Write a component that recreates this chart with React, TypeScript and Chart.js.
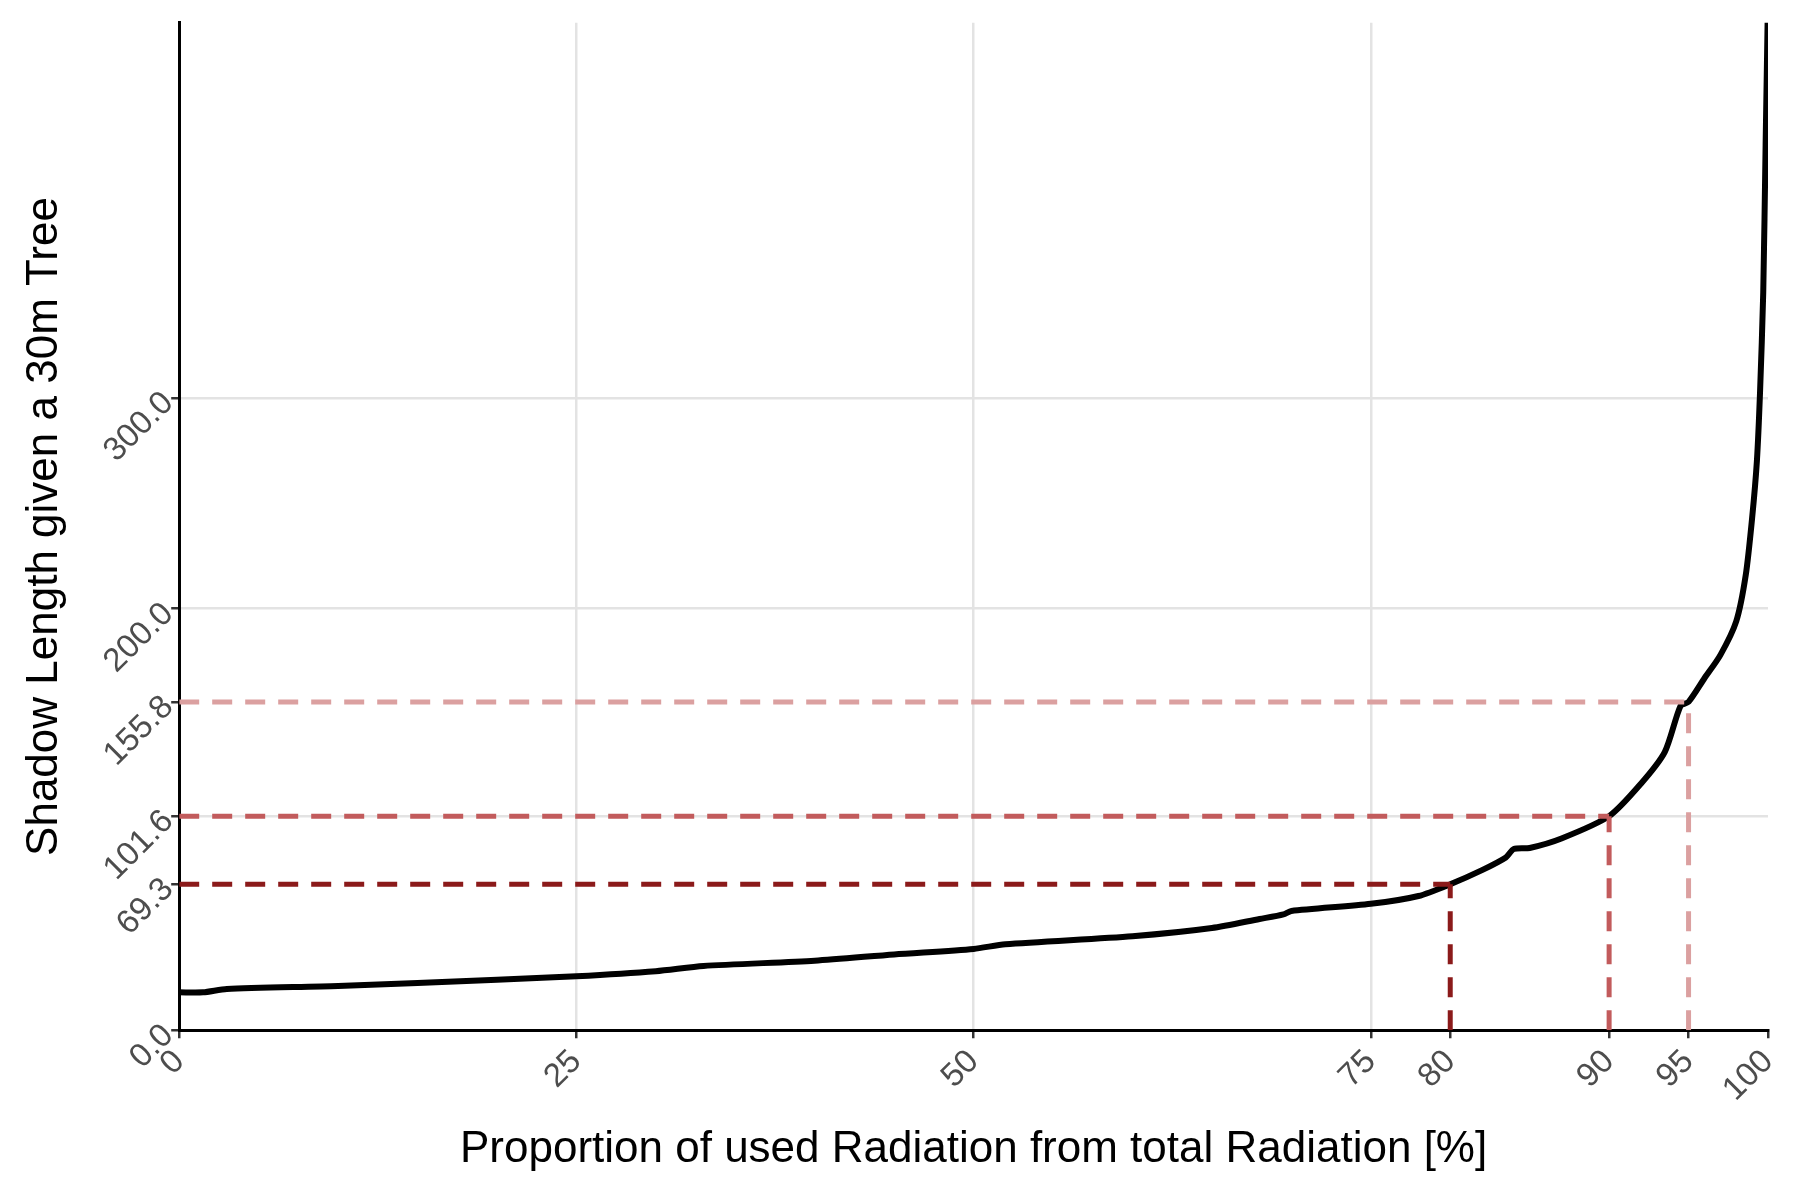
import {useEffect, useRef} from 'react'
import Chart from 'chart.js/auto'

const curveX = [0, 1.5, 3, 10, 20, 25, 30, 33, 40, 45, 50, 52, 60, 65, 68, 69.5, 70, 75, 78, 80, 82, 83.5, 84, 85, 87, 90, 92, 93.5, 94.5, 95, 96, 97, 98, 98.6, 99, 99.3, 99.5, 99.7, 99.85, 100]
const curveY = [18, 18, 19.6, 21, 24, 25.6, 28, 30.5, 33, 36, 38.6, 40.8, 44.6, 48.5, 52.8, 55, 56.6, 60, 63.7, 69.3, 76, 82, 86, 86.5, 91, 101.6, 117, 132, 154, 155.8, 167, 178, 194, 216, 243, 270, 303, 350, 420, 490]

const thresholdX = [80, 90, 95]
const thresholdY = [69.3, 101.6, 155.8]
const thresholdColors = ['#8b1a1a', '#c25b5c', '#dba0a0']

const xTicks = [0, 25, 50, 75, 80, 90, 95, 100]
const yTicks = [0, 69.3, 101.6, 155.8, 200, 300]
const xGridAt = [25, 50, 75]
const yGridAt = [101.6, 200, 300]

function App() {
  const chartRef = useRef<HTMLCanvasElement | null>(null)

  useEffect(() => {
    document.body.style.margin = '0'
    const dashSets = thresholdX.flatMap((tx, i) => [
      {
        data: [{x: 0, y: thresholdY[i]}, {x: tx, y: thresholdY[i]}],
        borderColor: thresholdColors[i], borderWidth: 5, borderDash: [20, 13], pointRadius: 0,
      },
      {
        data: [{x: tx, y: 0}, {x: tx, y: thresholdY[i]}],
        borderColor: thresholdColors[i], borderWidth: 5, borderDash: [20, 13], pointRadius: 0,
      },
    ])
    const myChart = new Chart(chartRef.current!, {
      type: 'line',
      data: {
        datasets: [
          ...dashSets,
          {
            data: curveX.map((x, i) => ({x, y: curveY[i]})),
            borderColor: '#000', borderWidth: 6, pointRadius: 0, tension: 0.25,
          },
        ] as any,
      },
      options: {
        animation: false,
        responsive: false,
        layout: {padding: {top: 20, right: 22, left: 14, bottom: 20}},
        plugins: {legend: {display: false}, tooltip: {enabled: false}},
        scales: {
          x: {
            type: 'linear', min: 0, max: 100,
            afterBuildTicks: (s: any) => { s.ticks = xTicks.map((v) => ({value: v})) },
            ticks: {color: '#4d4d4d', font: {family: 'Liberation Sans', size: 33}, maxRotation: 45, minRotation: 45, padding: 4},
            grid: {color: (c: any) => xGridAt.includes(c.tick?.value) ? '#e3e3e3' : 'rgba(0,0,0,0)', lineWidth: 2.5, drawTicks: true, tickColor: '#333', tickLength: 8},
            border: {color: '#000', width: 3},
            title: {display: true, text: 'Proportion of used Radiation from total Radiation [%]', color: '#000', font: {family: 'Liberation Sans', size: 44}, padding: {top: 10}},
          },
          y: {
            type: 'linear', min: 0, max: 478,
            afterBuildTicks: (s: any) => { s.ticks = yTicks.map((v) => ({value: v})) },
            ticks: {color: '#4d4d4d', font: {family: 'Liberation Sans', size: 33}, maxRotation: 45, minRotation: 45, callback: (v: any) => Number(v).toFixed(1)},
            grid: {color: (c: any) => yGridAt.includes(c.tick?.value) ? '#e3e3e3' : 'rgba(0,0,0,0)', lineWidth: 2.5, tickColor: '#333', tickLength: 8},
            border: {color: '#000', width: 3},
            title: {display: true, text: 'Shadow Length given a 30m Tree', color: '#000', font: {family: 'Liberation Sans', size: 44}, padding: {bottom: 8}},
          },
        },
      },
    })
    return () => {
      myChart.destroy()
    }
  }, [])

  return (
    <div>
      <canvas ref={chartRef} width={1800} height={1200} />
    </div>
  )
}

export default App
